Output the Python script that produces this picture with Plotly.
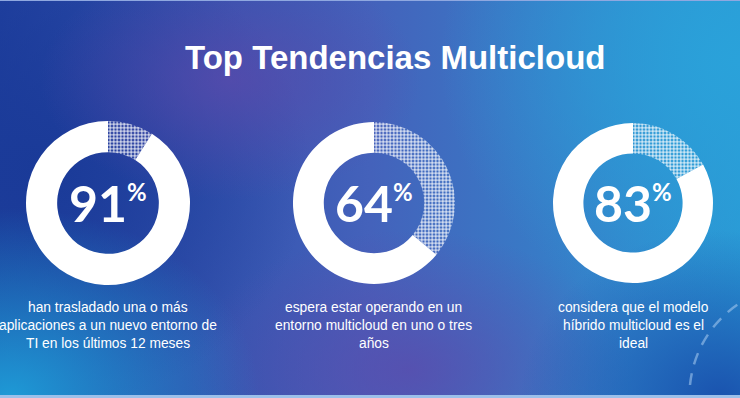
import base64
import plotly.graph_objects as go

# ---- data ----
title_text = "Top Tendencias Multicloud"
percentages = [91, 64, 83]
captions = [
    ["han trasladado una o más", "aplicaciones a un nuevo entorno de", "TI en los últimos 12 meses"],
    ["espera estar operando en un", "entorno multicloud en uno o tres", "años"],
    ["considera que el modelo", "híbrido multicloud es el", "ideal"],
]

W, H = 740, 398
centers_x = [108, 374, 633]      # px
center_y = 203                   # px from top
radii = [82, 81, 80]

# ---- background (SVG gradient) ----
svg = f'''<svg xmlns="http://www.w3.org/2000/svg" width="{W}" height="{H}" viewBox="0 0 {W} {H}">
<defs>
<linearGradient id="base" x1="0" y1="0" x2="1" y2="0">
<stop offset="0" stop-color="#1f3f9e"/><stop offset="0.5" stop-color="#4462bb"/><stop offset="1" stop-color="#2a98d4"/>
</linearGradient>
<radialGradient id="g1" cx="0.5" cy="0.5" r="0.5"><stop offset="0" stop-color="#1a3a98" stop-opacity="1"/><stop offset="1" stop-color="#1a3a98" stop-opacity="0"/></radialGradient>
<radialGradient id="g2" cx="0.5" cy="0.5" r="0.5"><stop offset="0" stop-color="#5c4aac" stop-opacity="0.75"/><stop offset="1" stop-color="#5c4aac" stop-opacity="0"/></radialGradient>
<radialGradient id="g3" cx="0.5" cy="0.5" r="0.5"><stop offset="0" stop-color="#1e9ad6" stop-opacity="1"/><stop offset="1" stop-color="#1e9ad6" stop-opacity="0"/></radialGradient>
<radialGradient id="g4" cx="0.5" cy="0.5" r="0.5"><stop offset="0" stop-color="#2aa2da" stop-opacity="1"/><stop offset="1" stop-color="#2aa2da" stop-opacity="0"/></radialGradient>
<radialGradient id="g5" cx="0.5" cy="0.5" r="0.5"><stop offset="0" stop-color="#1a52ae" stop-opacity="1"/><stop offset="1" stop-color="#1a52ae" stop-opacity="0"/></radialGradient>
</defs>
<rect x="0" y="0" width="{W}" height="{H}" fill="url(#base)"/>
<ellipse cx="40" cy="170" rx="270" ry="240" fill="url(#g1)"/>
<ellipse cx="230" cy="80" rx="190" ry="120" fill="url(#g2)"/>
<ellipse cx="410" cy="370" rx="220" ry="140" fill="url(#g2)"/>
<ellipse cx="10" cy="398" rx="250" ry="190" fill="url(#g3)"/>
<ellipse cx="740" cy="60" rx="300" ry="260" fill="url(#g4)"/>
<ellipse cx="720" cy="400" rx="200" ry="170" fill="url(#g5)"/>
<path d="M 690 385 A 110 110 0 0 1 745 300" fill="none" stroke="#9fc4ec" stroke-opacity="0.6" stroke-width="2.5" stroke-dasharray="12 9"/>
<rect x="0" y="395" width="{W}" height="3" fill="#9cc0ea"/>
<rect x="0" y="0" width="{W}" height="1" fill="#8fa8e0"/>
</svg>'''
bg_src = "data:image/svg+xml;base64," + base64.b64encode(svg.encode()).decode()

fig = go.Figure()

for i, pct in enumerate(percentages):
    cx, r = centers_x[i], radii[i]
    fig.add_trace(go.Pie(
        values=[100 - pct, pct],
        sort=False,
        direction="clockwise",
        rotation=0,
        hole=0.62,
        textinfo="none",
        hoverinfo="skip",
        showlegend=False,
        domain=dict(x=[(cx - r) / W, (cx + r) / W],
                    y=[1 - (center_y + r) / H, 1 - (center_y - r) / H]),
        marker=dict(
            colors=["rgba(0,0,0,0)", "white"],
            line=dict(width=0),
            pattern=dict(shape=["+", ""], fgcolor="white",
                         bgcolor="rgba(0,0,0,0)", size=3.5, solidity=0.45),
        ),
    ))
    fig.add_annotation(
        x=cx / W, y=1 - center_y / H, xref="paper", yref="paper",
        text=f"<b>{pct}</b><sup><b><span style='font-size:24px'>%</span></b></sup>",
        showarrow=False, xanchor="center", yanchor="middle",
        font=dict(family="Lato", size=50, color="white", weight=900),
    )
    for j, line in enumerate(captions[i]):
        fig.add_annotation(
            x=cx / W, y=1 - (307 + 18 * j) / H, xref="paper", yref="paper",
            text=line, showarrow=False, xanchor="center", yanchor="middle",
            font=dict(family="Liberation Sans", size=13.8, color="white"),
        )

fig.add_annotation(
    x=395 / W, y=1 - 57 / H, xref="paper", yref="paper",
    text=f"<b>{title_text}</b>", showarrow=False, xanchor="center", yanchor="middle",
    font=dict(family="Liberation Sans", size=33, color="white"),
)

fig.update_layout(
    width=W, height=H,
    margin=dict(l=0, r=0, t=0, b=0),
    paper_bgcolor="#3a5cb4",
    plot_bgcolor="rgba(0,0,0,0)",
    images=[dict(source=bg_src, xref="paper", yref="paper", x=0, y=1,
                 sizex=1, sizey=1, sizing="stretch", layer="below",
                 xanchor="left", yanchor="top")],
)

fig.write_html("out.html", config={"displayModeBar": False},
               post_script="document.body.style.margin='0';")
